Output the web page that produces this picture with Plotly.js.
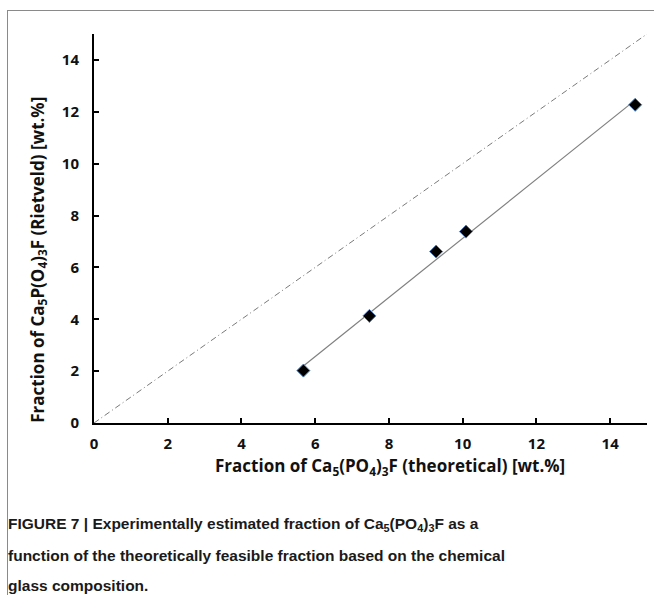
<!DOCTYPE html>
<html>
<head>
<meta charset="utf-8">
<script src="https://cdn.plot.ly/plotly-3.0.1.min.js"></script>
<style>
  html, body { margin: 0; padding: 0; background: #fff; }
  #wrap { position: relative; width: 654px; height: 595px; overflow: hidden; }
  #frame { position: absolute; left: 7px; top: 10px; width: 660px; height: 600px;
           border-top: 1px solid #8a8a8a; border-left: 1px solid #8a8a8a; pointer-events: none; }
  #chart { position: absolute; left: 0; top: 0; width: 654px; height: 595px; }
</style>
</head>
<body>
<div id="wrap">
  <div id="chart"></div>
  <div id="frame"></div>
</div>
<script>
// Data
const theoretical = [5.68, 7.47, 9.28, 10.09, 14.68];   // x: Ca5(PO4)3F theoretical [wt.%]
const rietveld    = [2.02, 4.13, 6.61, 7.38, 12.27];    // y: Ca5P(O4)3F Rietveld [wt.%]
const identityLine = [0, 15];                            // y = x reference line
const tickValues = [0, 2, 4, 6, 8, 10, 12, 14];
const tickLabels = ['0', '2', '4', '6', '8', '10', '12', '14'];
const xTitle = 'Fraction of Ca<sub>5</sub>(PO<sub>4</sub>)<sub>3</sub>F (theoretical) [wt.%]';
const yTitle = 'Fraction of Ca<sub>5</sub>P(O<sub>4</sub>)<sub>3</sub>F (Rietveld) [wt.%]';
const captionLines = [
  'FIGURE 7 | Experimentally estimated fraction of Ca<sub>5</sub>(PO<sub>4</sub>)<sub>3</sub>F as a',
  'function of the theoretically feasible fraction based on the chemical',
  'glass composition.'
];

// Least-squares trend line over the measured range
const n = theoretical.length;
const mx = theoretical.reduce((a, b) => a + b, 0) / n;
const my = rietveld.reduce((a, b) => a + b, 0) / n;
let sxy = 0, sxx = 0;
for (let i = 0; i < n; i++) {
  sxy += (theoretical[i] - mx) * (rietveld[i] - my);
  sxx += (theoretical[i] - mx) * (theoretical[i] - mx);
}
const slope = sxy / sxx;
const intercept = my - slope * mx;
const fitX = [Math.min(...theoretical), Math.max(...theoretical)];
const fitY = fitX.map(v => intercept + slope * v);

const traces = [
  {
    x: identityLine, y: identityLine, mode: 'lines', type: 'scatter',
    line: { color: '#7a7a7a', width: 1, dash: '6px,3px,1px,3px' },
    hoverinfo: 'skip', showlegend: false
  },
  {
    x: fitX, y: fitY, mode: 'lines', type: 'scatter',
    line: { color: '#808080', width: 1.2 },
    hoverinfo: 'skip', showlegend: false
  },
  {
    x: theoretical, y: rietveld, mode: 'markers', type: 'scatter',
    marker: { symbol: 'diamond', size: 10, color: '#000000',
              line: { color: '#4f81bd', width: 1 } },
    showlegend: false
  }
];

const tickFont = { family: '"Open Sans", Lato, sans-serif', size: 15, color: '#111111' };
const titleFont = { family: '"Open Sans", Lato, sans-serif', size: 17, color: '#111111' };
const capFont = { family: '"Liberation Sans", Arial, sans-serif', size: 15.5, color: '#1a1a1a' };

const boldTicks = tickLabels.map(t => '<b>' + t + '</b>');
const capY = [-0.26, -0.341, -0.418];

const annotations = [
  { text: '<b>' + xTitle + '</b>', xref: 'paper', yref: 'paper', x: 0.535, y: -0.112,
    xanchor: 'center', yanchor: 'middle', showarrow: false, font: titleFont },
  { text: '<b>' + yTitle + '</b>', xref: 'paper', yref: 'paper', x: -0.101, y: 0.42,
    xanchor: 'center', yanchor: 'middle', textangle: -90, showarrow: false, font: titleFont }
].concat(captionLines.map((t, i) => ({
  text: '<b>' + t + '</b>', xref: 'paper', yref: 'paper', x: -0.1585, y: capY[i],
  xanchor: 'left', yanchor: 'middle', showarrow: false, font: capFont, align: 'left'
})));

const layout = {
  width: 654, height: 595,
  margin: { l: 94, r: 7, t: 34, b: 172 },
  paper_bgcolor: '#ffffff', plot_bgcolor: '#ffffff',
  showlegend: false,
  xaxis: {
    range: [0, 15], tickvals: tickValues, ticktext: boldTicks,
    showgrid: false, zeroline: false, showline: true, linecolor: '#000', linewidth: 2,
    ticks: 'inside', ticklen: 5, tickwidth: 2, tickcolor: '#000',
    tickfont: tickFont, ticklabelstandoff: 6
  },
  yaxis: {
    range: [0, 15], tickvals: tickValues, ticktext: boldTicks,
    showgrid: false, zeroline: false, showline: true, linecolor: '#000', linewidth: 2,
    ticks: 'inside', ticklen: 5, tickwidth: 2, tickcolor: '#000',
    tickfont: tickFont, ticklabelstandoff: 10
  },
  annotations: annotations
};

Plotly.newPlot('chart', traces, layout, { displayModeBar: false, staticPlot: true });
</script>
</body>
</html>
